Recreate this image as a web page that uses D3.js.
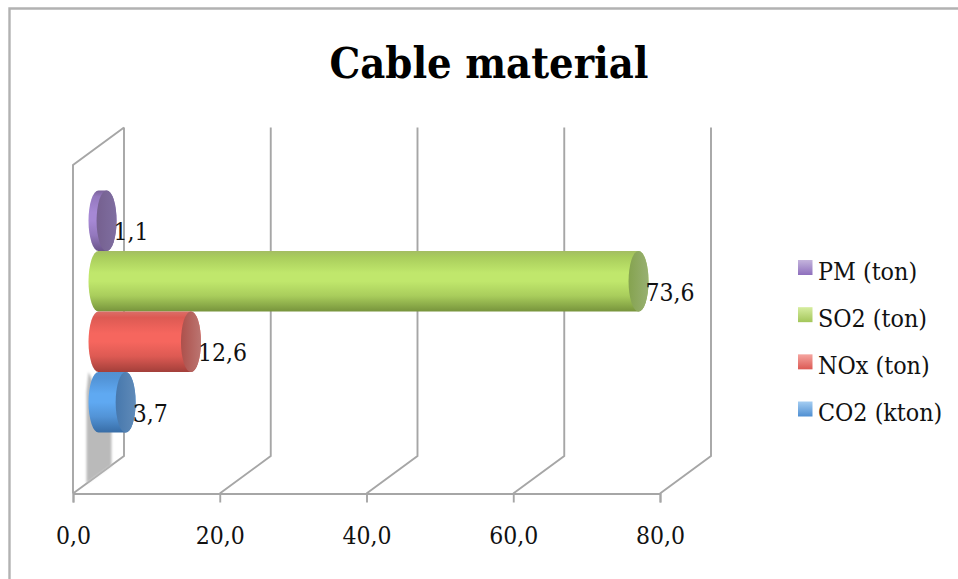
<!DOCTYPE html>
<html>
<head>
<meta charset="utf-8">
<script src="https://cdn.jsdelivr.net/npm/d3@7"></script>
<style>
  html, body { margin: 0; padding: 0; background: #fff; }
  svg { display: block; }
  text { font-family: "DejaVu Serif Condensed", "DejaVu Serif", serif; fill: #111; }
</style>
</head>
<body>
<svg id="chart" width="958" height="579"></svg>
<script>
const chartTitle = "Cable material";
const seriesNames = ["PM (ton)", "SO2 (ton)", "NOx (ton)", "CO2 (kton)"];
const seriesValues = [1.1, 73.6, 12.6, 3.7];
const seriesColors = [
  { edge: "#7a6299", dark: "#6a5489", mid: "#9378bd", light: "#a688d4", capL: "#75608f", capR: "#7f6ea0", swatchTop: "#c4b4dc", swatchBottom: "#8e6fbd" },
  { edge: "#a3bd62", dark: "#77943c", mid: "#a9cd5c", light: "#c0e76c", capL: "#85a34f", capR: "#98b072", swatchTop: "#d6eda0", swatchBottom: "#a3c65a" },
  { edge: "#db6e68", dark: "#a33f3a", mid: "#dd5a53", light: "#f6665e", capL: "#ad504b", capR: "#bb7571", swatchTop: "#f5a5a0", swatchBottom: "#dc5a54" },
  { edge: "#5590cf", dark: "#386da6", mid: "#5293d6", light: "#5fa9f2", capL: "#4778ad", capR: "#5f8ab8", swatchTop: "#a4cdf2", swatchBottom: "#4f8fd2" }
];
const axisTicks = [0, 20, 40, 60, 80];

const svg = d3.select("#chart");
const defs = svg.append("defs");

// Plot box: front floor edge, and the offset that reaches the back wall
const floorY = 493.5, wallTopY = 165;
const depthX = 51, depthY = -37.5;
const x = d3.scaleLinear().domain([0, 80]).range([73, 660]);
const y = d3.scaleBand().domain(seriesNames).range([190.5, 432.5]);

// Cylinders stand halfway through the box depth
const midX = depthX / 2;
const capRx = 10;

const gray = "#a6a6a6";

// Window frame, open on the right and at the bottom
svg.append("path")
  .attr("d", "M958,8.5H9.5V579")
  .attr("fill", "none").attr("stroke", "#b2b2b2").attr("stroke-width", 2.4);

// Title
svg.append("text")
  .attr("x", 489).attr("y", 78)
  .attr("text-anchor", "middle")
  .style("font-weight", "700")
  .style("font-size", "43px")
  .style("fill", "#000")
  .text(chartTitle);

// Gridlines run over the floor and up the back wall
const grid = svg.append("g").attr("fill", "none").attr("stroke", gray).attr("stroke-width", 1.9);
grid.selectAll("path.grid")
  .data(axisTicks)
  .join("path")
  .attr("class", "grid")
  .attr("d", t => {
    const px = x(t);
    return d3.line()([
      [px, floorY],
      [px + depthX, floorY + depthY],
      [px + depthX, wallTopY + depthY]
    ]);
  });

// Left side wall
grid.append("path")
  .attr("d", d3.line()([
    [x(0), floorY],
    [x(0), wallTopY],
    [x(0) + depthX, wallTopY + depthY]
  ]));

// Soft shadow cast by the lowest cylinder onto the wall and floor
const blurFilter = defs.append("filter").attr("id", "softShadow")
  .attr("x", "-30%").attr("y", "-10%").attr("width", "160%").attr("height", "120%");
blurFilter.append("feGaussianBlur").attr("stdDeviation", 1.2);

const lowest = seriesNames[seriesNames.length - 1];
const shadowLeft = x(0) + 13.5;
const shadowRight = x(0) + 38.5;
svg.append("path")
  .attr("d", d3.line()([
    [shadowLeft + 2, y(lowest)],
    [shadowRight, y(lowest) + 50],
    [shadowRight, floorY + depthY * 0.75],
    [shadowLeft, floorY + depthY * 0.27],
    [shadowLeft, y(lowest) + 20]
  ]) + "Z")
  .attr("fill", "#bababa")
  .attr("filter", "url(#softShadow)");

// Shaded gradients for body, end cap and legend swatch
seriesColors.forEach((c, i) => {
  const body = defs.append("linearGradient").attr("id", `body${i}`)
    .attr("x1", 0).attr("x2", 0).attr("y1", 0).attr("y2", 1);
  [[0, c.edge], [0.1, c.mid], [0.36, c.light], [0.5, c.light], [0.74, c.mid], [1, c.dark]].forEach(([o, col]) =>
    body.append("stop").attr("offset", o).attr("stop-color", col));
  const cap = defs.append("linearGradient").attr("id", `cap${i}`)
    .attr("x1", 0).attr("x2", 1).attr("y1", 0).attr("y2", 0);
  [[0, c.capL], [1, c.capR]].forEach(([o, col]) =>
    cap.append("stop").attr("offset", o).attr("stop-color", col));
  const swatch = defs.append("linearGradient").attr("id", `swatch${i}`)
    .attr("x1", 0).attr("x2", 0).attr("y1", 0).attr("y2", 1);
  [[0, c.swatchTop], [1, c.swatchBottom]].forEach(([o, col]) =>
    swatch.append("stop").attr("offset", o).attr("stop-color", col));
});

// Cylinders, drawn top to bottom
const bars = svg.append("g").selectAll("g.bar")
  .data(seriesNames.map((name, i) => ({ name, value: seriesValues[i], i })))
  .join("g").attr("class", "bar");

const ry = y.bandwidth() / 2;
const x0 = x(0) + midX;
const endX = d => x(d.value) + midX;

bars.append("path")
  .attr("fill", d => `url(#body${d.i})`)
  .attr("d", d => {
    const top = y(d.name), bottom = top + y.bandwidth();
    return `M${x0},${top}A${capRx},${ry} 0 0 0 ${x0},${bottom}` +
      `L${endX(d)},${bottom}A${capRx},${ry} 0 0 0 ${endX(d)},${top}Z`;
  });

bars.append("ellipse")
  .attr("fill", d => `url(#cap${d.i})`)
  .attr("cx", endX)
  .attr("cy", d => y(d.name) + ry)
  .attr("rx", capRx)
  .attr("ry", ry);

// Value labels with a decimal comma
const decimalComma = d3.formatLocale({ decimal: ",", thousands: ".", grouping: [3], currency: ["", ""] }).format(".1f");

bars.append("text")
  .attr("x", d => endX(d) + 7)
  .attr("y", d => y(d.name) + ry + 19.5)
  .style("font-size", "24.5px")
  .text(d => decimalComma(d.value));

// Horizontal axis
const axis = svg.append("g")
  .attr("transform", `translate(0,${floorY})`)
  .call(d3.axisBottom(x).tickValues(axisTicks).tickFormat(decimalComma).tickSize(9).tickPadding(29));
axis.select(".domain").attr("stroke", gray).attr("stroke-width", 1.9);
axis.selectAll(".tick line").attr("stroke", gray).attr("stroke-width", 1.9);
axis.selectAll(".tick text")
  .style("font-family", '"DejaVu Serif Condensed", "DejaVu Serif", serif')
  .style("font-size", "24.5px")
  .style("fill", "#111")
  .attr("dy", "0.5em");

// Legend
const legendY = d3.scalePoint().domain(seriesNames).range([267.5, 409]);
const legend = svg.append("g").selectAll("g.legend")
  .data(seriesNames.map((name, i) => ({ name, i })))
  .join("g").attr("class", "legend")
  .attr("transform", d => `translate(798,${legendY(d.name)})`);

legend.append("rect")
  .attr("y", -7.5).attr("width", 14.5).attr("height", 15)
  .attr("fill", d => `url(#swatch${d.i})`);

legend.append("text")
  .attr("x", 20).attr("y", 12)
  .style("font-size", "24.8px")
  .text(d => d.name);
</script>
</body>
</html>
